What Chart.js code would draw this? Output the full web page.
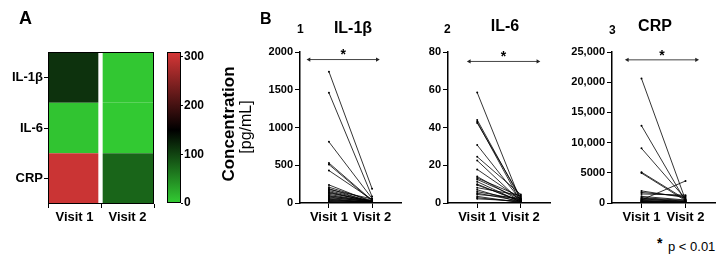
<!DOCTYPE html>
<html><head><meta charset="utf-8">
<script src="https://cdn.jsdelivr.net/npm/chart.js@4.4.1/dist/chart.umd.min.js"></script>
<style>
body{margin:0;background:#fff;width:723px;height:259px;position:relative;overflow:hidden;font-family:'Liberation Sans',Arial,sans-serif;color:#000}
canvas{position:absolute;top:0}
.t{position:absolute;white-space:nowrap;line-height:1}
.b{font-weight:bold}
.c{transform:translateX(-50%)}
.r{transform:translate(-50%,-50%) rotate(-90deg)}
</style></head><body>
<canvas id="heat" width="160" height="230" style="left:0"></canvas>
<canvas id="cbar" width="50" height="230" style="left:160px"></canvas>
<canvas id="c1" width="190" height="230" style="left:215px"></canvas>
<canvas id="c2" width="150" height="230" style="left:405px"></canvas>
<canvas id="c3" width="168" height="230" style="left:555px"></canvas>

<div class="t b" style="left:19px;top:9px;font-size:18px">A</div>
<div class="t b" style="left:260px;top:11px;font-size:16px">B</div>
<div class="t b" style="left:297px;top:23px;font-size:12px">1</div>
<div class="t b c" style="left:353px;top:20px;font-size:16px">IL-1β</div>
<div class="t b" style="left:444px;top:23px;font-size:12px">2</div>
<div class="t b c" style="left:505px;top:18px;font-size:16px">IL-6</div>
<div class="t b" style="left:609px;top:24px;font-size:12px">3</div>
<div class="t b c" style="left:655px;top:18px;font-size:16px">CRP</div>
<div class="t b r" style="left:228px;top:124px;font-size:17px">Concentration</div>
<div class="t r" style="left:246px;top:127px;font-size:16px">[pg/mL]</div>
<div class="t b" style="left:657px;top:236px;font-size:14px">*</div>
<div class="t" style="left:668px;top:240px;font-size:13px">p &lt; 0.01</div>

<script>
// Heatmap (A)
const heatRows = ['IL-1β', 'IL-6', 'CRP'];
const visits = ['Visit 1', 'Visit 2'];
const heatVisit1 = [113, 6, 300];
const heatVisit2 = [4, 2, 76];
const cbarMax = 310;
const cbarTicks = [0, 100, 200, 300];

// Paired data (B)
const il1bV1 = [1740, 1460, 810, 530, 510, 430, 240, 210, 190, 180, 165, 150, 140, 130, 115, 100, 90, 80, 70, 60, 50, 45, 35, 30, 20, 15, 10];
const il1bV2 = [190, 85, 60, 35, 25, 45, 15, 30, 10, 55, 20, 10, 15, 25, 10, 5, 30, 10, 20, 5, 10, 5, 5, 10, 5, 2, 1];
const il6V1 = [58.5, 44, 43, 42.4, 30.7, 24.5, 22.5, 17.8, 14, 13.2, 12.5, 11.3, 10, 9.5, 8.1, 7, 6, 5.2, 4.5, 3.5, 2.8, 2.2];
const il6V2 = [1, 2, 0.5, 3, 1.5, 4.5, 0.8, 2, 1, 3.5, 2.2, 0.5, 0.6, 1.2, 4, 0.3, 1.8, 1, 2.5, 0.2, 0.5, 1];
const crpV1 = [20600, 12800, 9050, 5100, 4950, 2000, 1750, 1500, 1100, 900, 800, 700, 600, 500, 450, 400, 300, 250, 200, 150, 100];
const crpV2 = [500, 300, 700, 600, 400, 900, 1100, 1300, 500, 400, 300, 200, 250, 3650, 150, 100, 80, 60, 50, 40, 30];

Chart.defaults.font.family = "'Liberation Sans', Arial, sans-serif";
Chart.defaults.color = '#000';
Chart.defaults.animation = false;

const stops = [[0, [51, 204, 51]], [150, [0, 0, 0]], [310, [215, 55, 55]]];
function heatColor(v) {
  for (let i = 1; i < stops.length; i++) {
    if (v <= stops[i][0]) {
      const [a, ca] = stops[i-1], [b, cb] = stops[i];
      const f = (v - a) / (b - a);
      return 'rgb(' + ca.map((c, k) => Math.round(c + (cb[k] - c) * f)).join(',') + ')';
    }
  }
  return 'rgb(' + stops[stops.length-1][1].join(',') + ')';
}

const frame = {
  id: 'frame',
  afterDraw(ch) {
    const a = ch.chartArea, c = ch.ctx;
    c.save(); c.strokeStyle = '#000'; c.lineWidth = 1;
    c.strokeRect(a.left + .5, a.top + .5, a.right - a.left - 1, a.bottom - a.top - 1);
    c.restore();
  }
};

const axisGrid = { display: true, drawOnChartArea: false, drawTicks: true, tickLength: 4, color: '#000' };
const bold = (s) => ({ size: s, weight: 'bold' });

// heatmap: one stacked bar per visit, one segment per row
const heatDS = heatRows.map((r, i) => ({
  label: r,
  data: [1, 1],
  backgroundColor: [heatColor(heatVisit1[i]), heatColor(heatVisit2[i])],
  borderColor: '#fff',
  borderWidth: ctx => ctx.dataIndex === 0 ? { right: 3, left: 0, top: 0, bottom: 0 } : { left: 2, right: 0, top: 0, bottom: 0 },
  borderSkipped: false,
  barPercentage: 1, categoryPercentage: 1
})).reverse();

new Chart(document.getElementById('heat'), {
  type: 'bar',
  data: { labels: visits, datasets: heatDS },
  options: {
    responsive: false, devicePixelRatio: 1,
    layout: { padding: { top: 52, right: 6, left: 0, bottom: 0 } },
    plugins: { legend: { display: false }, tooltip: { enabled: false } },
    scales: {
      x: { stacked: true, grid: axisGrid, border: { display: false }, ticks: { font: bold(13), padding: 2 },
           afterFit: s => { s.height = 26 } },
      y: { stacked: true, min: 0, max: heatRows.length, grid: axisGrid, border: { display: false },
           afterBuildTicks: s => { s.ticks = heatRows.map((r, i) => ({ value: heatRows.length - i - .5 })) },
           ticks: { font: bold(13), padding: 1, callback: v => heatRows[heatRows.length - 1 - Math.floor(v)] },
           afterFit: s => { s.width = 48 } }
    }
  },
  plugins: [frame]
});

// colour bar
new Chart(document.getElementById('cbar'), {
  type: 'bar',
  data: { labels: [''], datasets: [{
    data: [[0, cbarMax]],
    barPercentage: 1, categoryPercentage: 1, borderWidth: 0,
    backgroundColor: ctx => {
      const ch = ctx.chart, y = ch.scales.y;
      if (!ch.chartArea || !y) return '#000';
      const g = ch.ctx.createLinearGradient(0, y.getPixelForValue(0), 0, y.getPixelForValue(cbarMax));
      stops.forEach(([v, c]) => g.addColorStop(v / cbarMax, 'rgb(' + c.join(',') + ')'));
      return g;
    }
  }] },
  options: {
    responsive: false, devicePixelRatio: 1,
    layout: { padding: { top: 52, right: 0, left: 7, bottom: 27 } },
    plugins: { legend: { display: false }, tooltip: { enabled: false } },
    scales: {
      x: { display: false },
      y: { position: 'right', min: 0, max: cbarMax, grid: { ...axisGrid, tickLength: 2 }, border: { display: false },
           afterBuildTicks: s => { s.ticks = cbarTicks.map(v => ({ value: v })) },
           ticks: { font: bold(12), padding: 1 },
           afterFit: s => { s.width = 29 } }
    }
  },
  plugins: [frame]
});

// paired line charts
const sigStar = {
  id: 'sigStar',
  afterDatasetsDraw(ch) {
    const ds = ch.data.datasets.find(d => d.sig);
    if (!ds) return;
    const xs = ch.scales.x, ys = ch.scales.y, c = ch.ctx;
    const mx = (xs.getPixelForValue(ds.data[0].x) + xs.getPixelForValue(ds.data[1].x)) / 2;
    c.save(); c.fillStyle = '#000'; c.font = 'bold 14px "Liberation Sans", Arial';
    c.textAlign = 'center'; c.textBaseline = 'top';
    c.fillText('*', mx, ys.getPixelForValue(ds.data[0].y) - 11);
    c.restore();
  }
};

function paired(id, v1, v2, yMax, yStep, sigX, sigY, fmt, axisW, padR) {
  const ds = v1.map((a, i) => ({
    data: [{ x: 1, y: a }, { x: 2, y: v2[i] }],
    borderColor: '#000', borderWidth: .8, pointRadius: 1, pointBackgroundColor: '#000', pointBorderWidth: 0
  }));
  ds.push({
    sig: true,
    data: [{ x: sigX[0], y: sigY }, { x: sigX[1], y: sigY }],
    borderColor: '#444', borderWidth: 1,
    pointStyle: 'triangle', pointRadius: 2.5, pointRotation: [270, 90],
    pointBackgroundColor: '#222', pointBorderWidth: 0
  });
  new Chart(document.getElementById(id), {
    type: 'line',
    data: { datasets: ds },
    options: {
      responsive: false, devicePixelRatio: 1,
      layout: { padding: { top: 52, right: padR, left: 0, bottom: 0 } },
      plugins: { legend: { display: false }, tooltip: { enabled: false } },
      scales: {
        x: { type: 'linear', min: .33, max: 2.67, grid: { ...axisGrid, tickLength: 5 }, border: { color: '#000', width: 1.5 },
             afterBuildTicks: s => { s.ticks = [{ value: 1 }, { value: 2 }] },
             ticks: { font: bold(13), padding: 2, callback: v => visits[v - 1] },
             afterFit: s => { s.height = 27 } },
        y: { min: 0, max: yMax, grid: { ...axisGrid, tickLength: 5 }, border: { color: '#000', width: 1.5 },
             ticks: { stepSize: yStep, font: bold(11), padding: 2, callback: fmt },
             afterFit: s => { s.width = axisW } }
      }
    },
    plugins: [sigStar]
  });
}

const plain = v => String(v);
const comma = v => v >= 10000 ? v.toLocaleString('en-US') : String(v);
paired('c1', il1bV1, il1bV2, 2000, 500, [.54, 2.12], 1900, plain, 85, 4);
paired('c2', il6V1, il6V2, 80, 20, [.82, 2.39], 75, plain, 43, 5);
paired('c3', crpV1, crpV2, 25000, 5000, [.68, 2.25], 23700, comma, 57, 8);
</script>
</body></html>
